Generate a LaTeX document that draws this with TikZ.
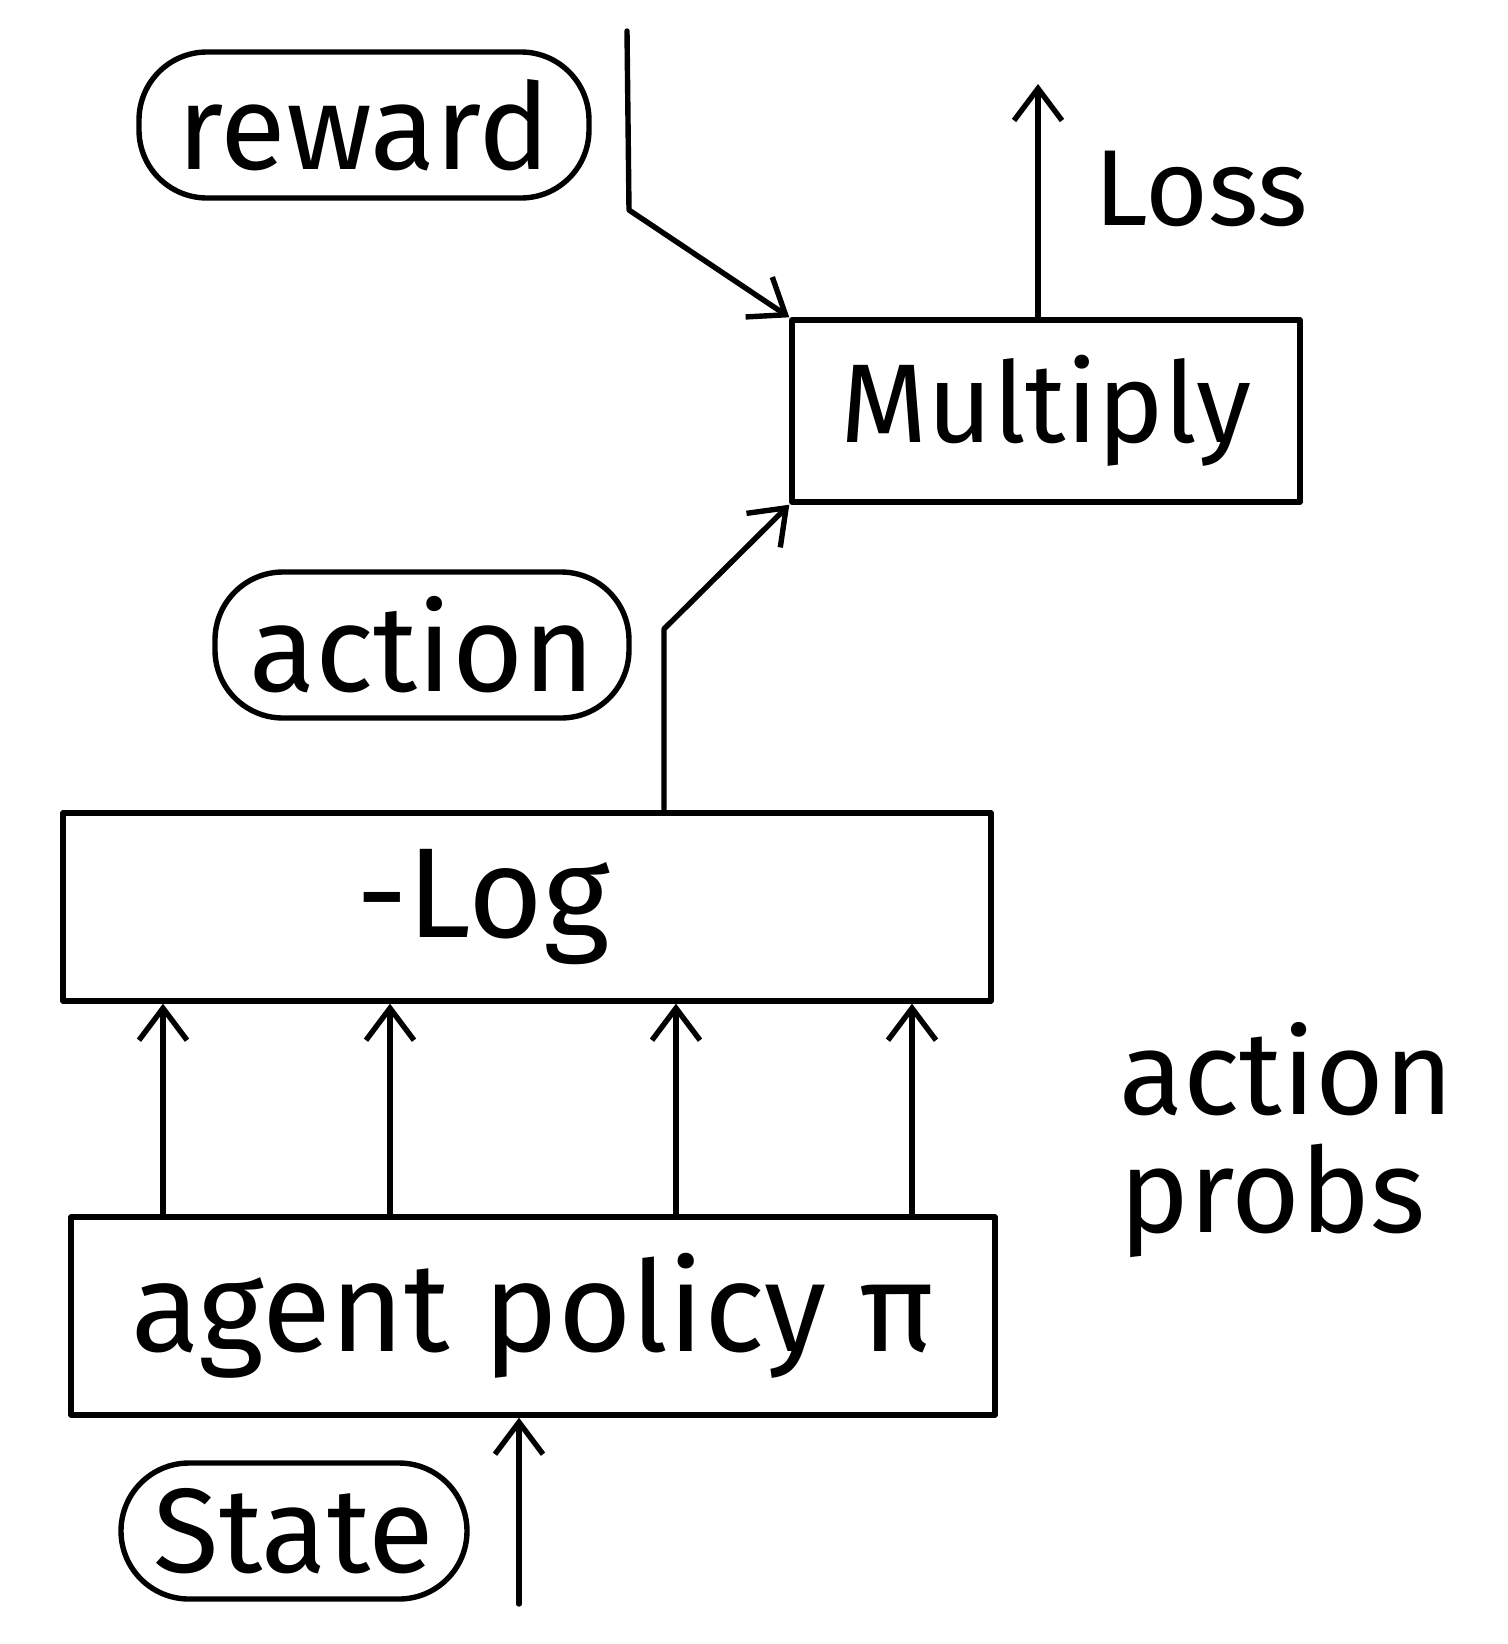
\documentclass[tikz,border=0pt]{standalone}
\usepackage{fontspec}
\setmainfont{Fira Sans}
\usetikzlibrary{arrows.meta}
\begin{document}
\begin{tikzpicture}[x=0.5pt,y=-0.5pt,
  line width=2.7pt, line cap=round, line join=round,
  box/.style={draw, inner sep=0pt},
  pill/.style={draw, rounded corners=34pt, inner sep=0pt},
  arr/.style={-{Straight Barb[length=16pt,width=24pt,line width=2.7pt]}},
  fs/.style={font=\fontsize{#1}{#1}\selectfont}]
\useasboundingbox (0,0) rectangle (1508,1644);
% nodes
\node[pill, minimum width=225pt, minimum height=73pt, fs=60pt] (reward) at (364,125) {reward};
\node[box, minimum width=254pt, minimum height=91pt, fs=56pt] (mult) at (1046,411) {Multiply};
\node[fs=54pt, anchor=west] (loss) at (1085,189) {Loss};
\node[pill, minimum width=207pt, minimum height=73pt, fs=61pt] (action) at (422,645) {action};
\node[box, minimum width=464pt, minimum height=94pt, fs=64pt] (log) at (527,907) {-Log\hspace*{44pt}};
\node[box, minimum width=462pt, minimum height=99pt, fs=63pt] (agent) at (533,1316) {agent policy π};
\node[fs=59pt, anchor=west, align=left] (probs) at (1110,1140) {action\\probs};
\node[pill, minimum width=173pt, minimum height=68pt, fs=60pt] (state) at (294,1531) {State};
% coordinates
\coordinate (rewIn) at (627,31);
\coordinate (rewBend) at (629,210);
\coordinate (lossTop) at (1038,84);
\coordinate (actBend) at (664,629);
\coordinate (p1) at (163,0);
\coordinate (p2) at (390,0);
\coordinate (p3) at (676,0);
\coordinate (p4) at (912,0);
\coordinate (stIn) at (519,1604);
% connectors
\draw[arr] (rewIn) -- (rewBend) -- (mult.north west);
\draw[arr] (lossTop |- mult.north) -- (lossTop);
\draw[arr] (actBend |- log.north) -- (actBend) -- (mult.south west);
\foreach \p in {p1,p2,p3,p4}
  \draw[arr] (\p |- agent.north) -- (\p |- log.south);
\draw[arr] (stIn) -- (stIn |- agent.south);
\end{tikzpicture}
\end{document}
